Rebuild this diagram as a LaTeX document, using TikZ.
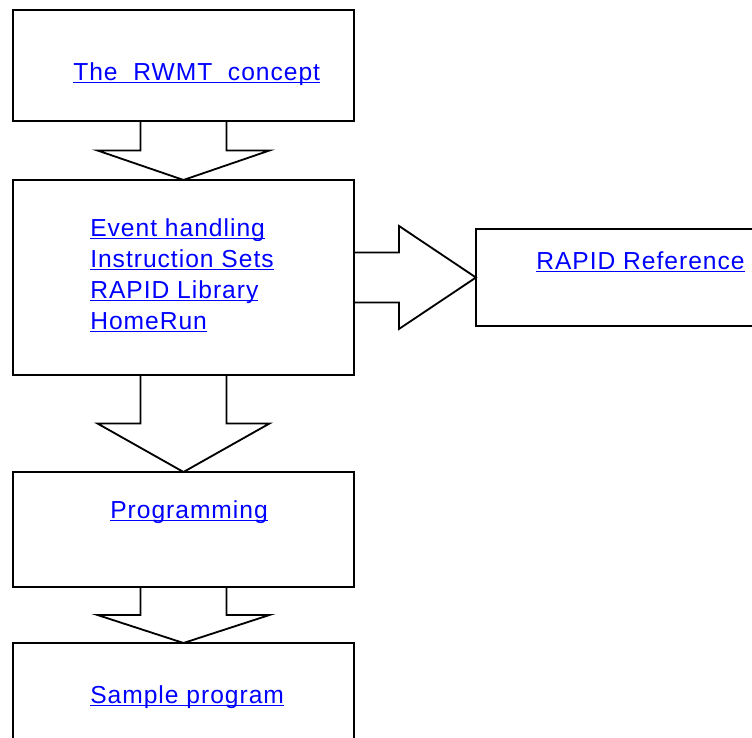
\documentclass[tikz,border=0pt]{standalone}
\usepackage{fontspec}
\usetikzlibrary{calc}
\newfontfamily\linkfont[LetterSpace=4]{Liberation Sans}
\newsavebox\linkbox
\newcommand{\ulink}[1]{\sbox\linkbox{#1}\rlap{\rule[-2.4pt]{\wd\linkbox}{1.1pt}}\usebox\linkbox}

\begin{document}
\begin{tikzpicture}[
    x=0.025cm, y=-0.025cm,
    , box/.style = {rectangle,draw=black,line width=1.3pt,minimum width=8.525cm,outer sep=0mm}
    , link/.style = {font=\linkfont\fontsize{17.5pt}{22pt}\selectfont,text=blue,inner sep=0mm,anchor=base west}
    , blockarrow/.style = {draw=black,line width=1.3pt,line join=miter}
]
\useasboundingbox (0,0) rectangle (752,738);
\clip (0,0) rectangle (752,738);
% boxes
\node[box,minimum height=2.775cm] (concept) at (183.5,65.5) {};
\node[box,minimum height=4.875cm] (events) at (183.5,277.5) {};
\node[box,minimum height=2.425cm,minimum width=8.25cm] (ref) at (641,277.5) {};
\node[box,minimum height=2.875cm] (prog) at (183.5,529.5) {};
\node[box,minimum height=2.775cm] (sample) at (183.5,698.5) {};
% texts
\node[link] (concepttxt) at (73,80) {\ulink{The~ RWMT~ concept}};
\foreach \t [count=\i from 0] in {Event handling, Instruction Sets, RAPID Library, HomeRun}
    \node[link] (events\i) at (90,236+31*\i) {\ulink{\t}};
\node[link] (reftxt) at (536,269) {\ulink{RAPID Reference}};
\node[link] (progtxt) at (110,518) {\ulink{Programming}};
\node[link] (sampletxt) at (90,703) {\ulink{Sample program}};
% block arrows
\foreach \a/\b in {concept/events, events/prog, prog/sample}
    \draw[blockarrow] ($(\a.south)+(-43,0)$) -- ($(\a.south)!0.5!(\b.north)+(-43,0)$)
        -- ($(\a.south)!0.5!(\b.north)+(-86,0)$) -- (\b.north)
        -- ($(\a.south)!0.5!(\b.north)+(86,0)$) -- ++(-43,0) -- ($(\a.south)+(43,0)$);
\draw[blockarrow] ($(events.east)+(0,-25)$) -- ++(45,0) -- ++(0,-26.5) -- (ref.west)
    -- ++(-77,51.5) -- ++(0,-26.5) -- ($(events.east)+(0,25)$);
\end{tikzpicture}
\end{document}
